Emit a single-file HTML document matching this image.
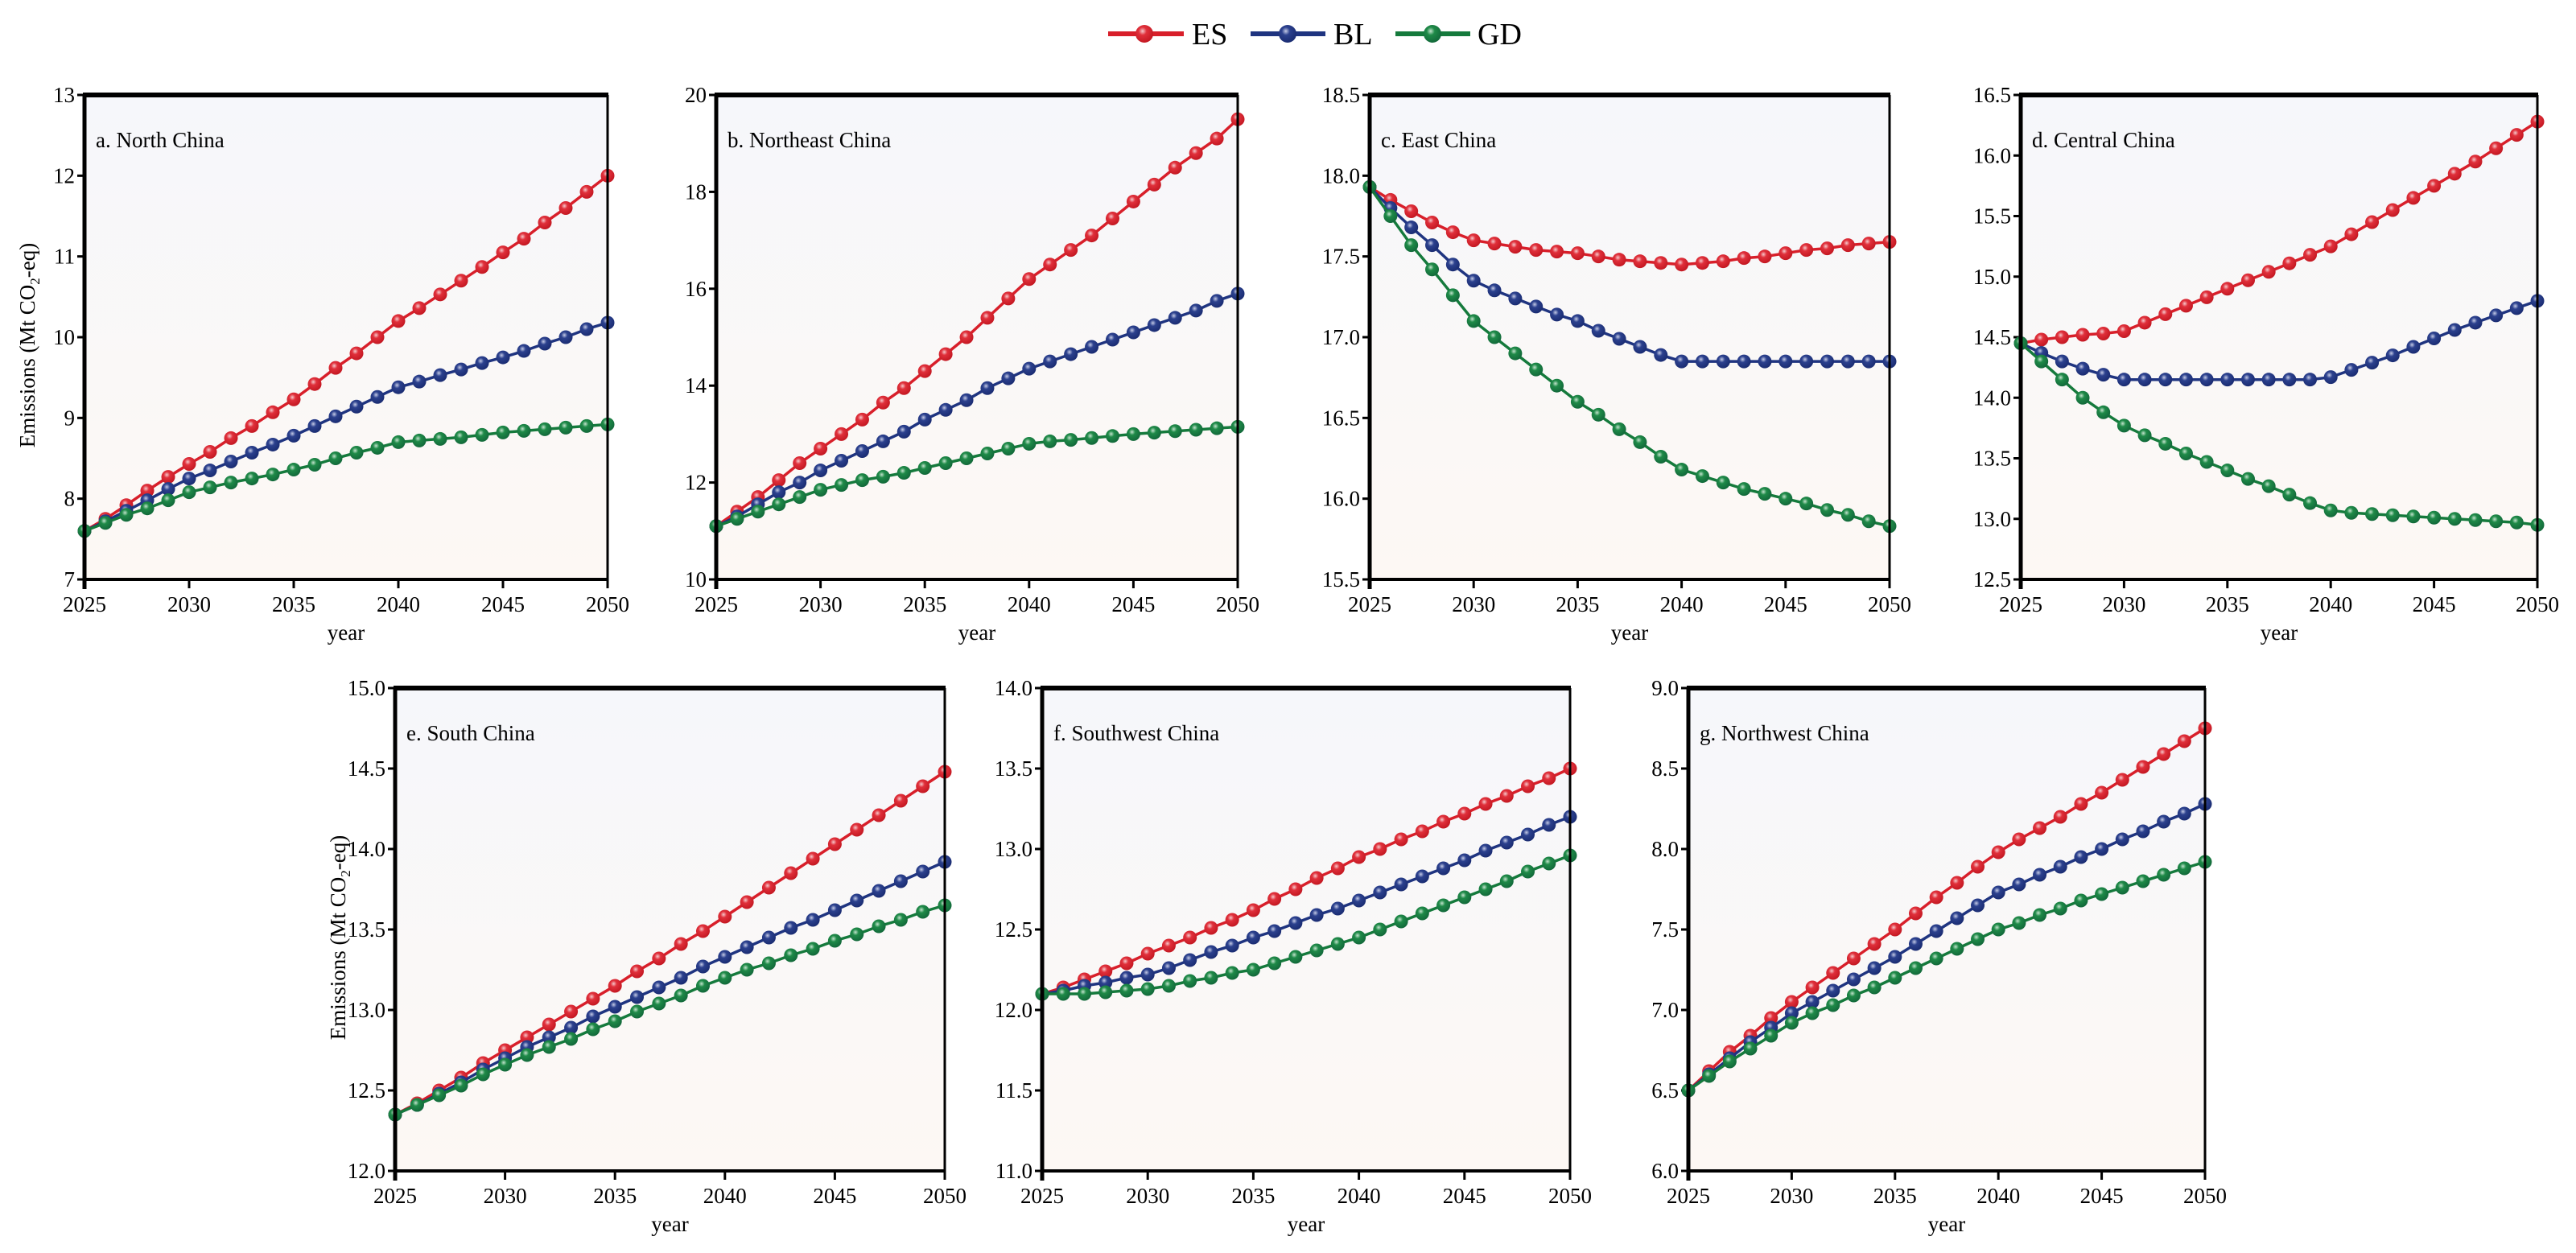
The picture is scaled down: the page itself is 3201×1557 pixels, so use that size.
<!DOCTYPE html>
<html><head><meta charset="utf-8">
<style>
html,body{margin:0;padding:0;background:#fff;}
svg{display:block;font-family:"Liberation Serif",serif;}
</style></head>
<body>
<svg id="chart" width="3201" height="1557" viewBox="0 0 3201 1557" xmlns="http://www.w3.org/2000/svg">
<defs>
<linearGradient id="bg" x1="0" y1="0" x2="0" y2="1">
<stop offset="0" stop-color="#f6f7fb"/><stop offset="1" stop-color="#fdf8f4"/>
</linearGradient>
<radialGradient id="gES" cx="0.4" cy="0.35" r="0.65"><stop offset="0" stop-color="#f6c9cc"/><stop offset="0.35" stop-color="#e0303b"/><stop offset="1" stop-color="#c41822"/></radialGradient>
<radialGradient id="gBL" cx="0.4" cy="0.35" r="0.65"><stop offset="0" stop-color="#c5cbe6"/><stop offset="0.35" stop-color="#2c418e"/><stop offset="1" stop-color="#1a2c72"/></radialGradient>
<radialGradient id="gGD" cx="0.4" cy="0.35" r="0.65"><stop offset="0" stop-color="#c3e3cd"/><stop offset="0.35" stop-color="#1f8a48"/><stop offset="1" stop-color="#12693a"/></radialGradient>
</defs>
<g>
<g>
<line x1="1377" y1="42" x2="1471" y2="42" stroke="#d81f2a" stroke-width="6"/>
<circle cx="1422" cy="42" r="11" fill="url(#gES)"/>
<text x="1481" y="55" font-size="38">ES</text></g>
<g>
<line x1="1554" y1="42" x2="1647" y2="42" stroke="#1f3480" stroke-width="6"/>
<circle cx="1600" cy="42" r="11" fill="url(#gBL)"/>
<text x="1657" y="55" font-size="38">BL</text></g>
<g>
<line x1="1734" y1="42" x2="1827" y2="42" stroke="#157a3c" stroke-width="6"/>
<circle cx="1780" cy="42" r="11" fill="url(#gGD)"/>
<text x="1836" y="55" font-size="38">GD</text></g>
</g>
</svg>
<script>
const years = [2025,2026,2027,2028,2029,2030,2031,2032,2033,2034,2035,2036,2037,2038,2039,2040,2041,2042,2043,2044,2045,2046,2047,2048,2049,2050];
const xTicks = [2025,2030,2035,2040,2045,2050];

const northES = [7.6,7.75,7.92,8.1,8.27,8.43,8.58,8.75,8.9,9.07,9.23,9.42,9.62,9.8,10.0,10.2,10.36,10.53,10.7,10.87,11.05,11.22,11.42,11.6,11.8,12.0];
const northBL = [7.6,7.72,7.85,7.98,8.12,8.25,8.35,8.46,8.57,8.67,8.78,8.9,9.02,9.14,9.26,9.38,9.45,9.53,9.6,9.68,9.75,9.83,9.92,10.0,10.1,10.18];
const northGD = [7.6,7.7,7.8,7.88,7.98,8.08,8.14,8.2,8.25,8.3,8.36,8.42,8.5,8.57,8.63,8.7,8.72,8.74,8.76,8.79,8.82,8.84,8.86,8.88,8.9,8.92];
const northTicks = ["7","8","9","10","11","12","13"];

const neES = [11.1,11.4,11.7,12.05,12.4,12.7,13.0,13.3,13.65,13.95,14.3,14.65,15.0,15.4,15.8,16.2,16.5,16.8,17.1,17.45,17.8,18.15,18.5,18.8,19.1,19.5];
const neBL = [11.1,11.3,11.55,11.8,12.0,12.25,12.45,12.65,12.85,13.05,13.3,13.5,13.7,13.95,14.15,14.35,14.5,14.65,14.8,14.95,15.1,15.25,15.4,15.55,15.75,15.9];
const neGD = [11.1,11.25,11.4,11.55,11.7,11.85,11.95,12.05,12.12,12.2,12.3,12.4,12.5,12.6,12.7,12.8,12.85,12.88,12.92,12.96,13.0,13.03,13.06,13.09,13.12,13.15];
const neTicks = ["10","12","14","16","18","20"];

const eastES = [17.93,17.85,17.78,17.71,17.65,17.6,17.58,17.56,17.54,17.53,17.52,17.5,17.48,17.47,17.46,17.45,17.46,17.47,17.49,17.5,17.52,17.54,17.55,17.57,17.58,17.59];
const eastBL = [17.93,17.8,17.68,17.57,17.45,17.35,17.29,17.24,17.19,17.14,17.1,17.04,16.99,16.94,16.89,16.85,16.85,16.85,16.85,16.85,16.85,16.85,16.85,16.85,16.85,16.85];
const eastGD = [17.93,17.75,17.57,17.42,17.26,17.1,17.0,16.9,16.8,16.7,16.6,16.52,16.43,16.35,16.26,16.18,16.14,16.1,16.06,16.03,16.0,15.97,15.93,15.9,15.86,15.83];
const eastTicks = ["15.5","16.0","16.5","17.0","17.5","18.0","18.5"];

const centralES = [14.45,14.48,14.5,14.52,14.53,14.55,14.62,14.69,14.76,14.83,14.9,14.97,15.04,15.11,15.18,15.25,15.35,15.45,15.55,15.65,15.75,15.85,15.95,16.06,16.17,16.28];
const centralBL = [14.45,14.37,14.3,14.24,14.19,14.15,14.15,14.15,14.15,14.15,14.15,14.15,14.15,14.15,14.15,14.17,14.23,14.29,14.35,14.42,14.49,14.56,14.62,14.68,14.74,14.8];
const centralGD = [14.45,14.3,14.15,14.0,13.88,13.77,13.69,13.62,13.54,13.47,13.4,13.33,13.27,13.2,13.13,13.07,13.05,13.04,13.03,13.02,13.01,13.0,12.99,12.98,12.97,12.95];
const centralTicks = ["12.5","13.0","13.5","14.0","14.5","15.0","15.5","16.0","16.5"];

const southES = [12.35,12.42,12.5,12.58,12.67,12.75,12.83,12.91,12.99,13.07,13.15,13.24,13.32,13.41,13.49,13.58,13.67,13.76,13.85,13.94,14.03,14.12,14.21,14.3,14.39,14.48];
const southBL = [12.35,12.41,12.48,12.55,12.63,12.7,12.77,12.83,12.89,12.96,13.02,13.08,13.14,13.2,13.27,13.33,13.39,13.45,13.51,13.56,13.62,13.68,13.74,13.8,13.86,13.92];
const southGD = [12.35,12.41,12.47,12.53,12.6,12.66,12.72,12.77,12.82,12.88,12.93,12.99,13.04,13.09,13.15,13.2,13.25,13.29,13.34,13.38,13.43,13.47,13.52,13.56,13.61,13.65];
const southTicks = ["12.0","12.5","13.0","13.5","14.0","14.5","15.0"];

const swES = [12.1,12.14,12.19,12.24,12.29,12.35,12.4,12.45,12.51,12.56,12.62,12.69,12.75,12.82,12.88,12.95,13.0,13.06,13.11,13.17,13.22,13.28,13.33,13.39,13.44,13.5];
const swBL = [12.1,12.12,12.15,12.17,12.2,12.22,12.26,12.31,12.36,12.4,12.45,12.49,12.54,12.59,12.63,12.68,12.73,12.78,12.83,12.88,12.93,12.99,13.04,13.09,13.15,13.2];
const swGD = [12.1,12.1,12.1,12.11,12.12,12.13,12.15,12.18,12.2,12.23,12.25,12.29,12.33,12.37,12.41,12.45,12.5,12.55,12.6,12.65,12.7,12.75,12.8,12.86,12.91,12.96];
const swTicks = ["11.0","11.5","12.0","12.5","13.0","13.5","14.0"];

const nwES = [6.5,6.62,6.74,6.84,6.95,7.05,7.14,7.23,7.32,7.41,7.5,7.6,7.7,7.79,7.89,7.98,8.06,8.13,8.2,8.28,8.35,8.43,8.51,8.59,8.67,8.75];
const nwBL = [6.5,6.6,6.7,6.8,6.89,6.98,7.05,7.12,7.19,7.26,7.33,7.41,7.49,7.57,7.65,7.73,7.78,7.84,7.89,7.95,8.0,8.06,8.11,8.17,8.22,8.28];
const nwGD = [6.5,6.59,6.68,6.76,6.84,6.92,6.98,7.03,7.09,7.14,7.2,7.26,7.32,7.38,7.44,7.5,7.54,7.59,7.63,7.68,7.72,7.76,7.8,7.84,7.88,7.92];
const nwTicks = ["6.0","6.5","7.0","7.5","8.0","8.5","9.0"];

const NS = "http://www.w3.org/2000/svg";
const svg = document.getElementById('chart');
function mk(tag, attrs, parent){
  const e = document.createElementNS(NS, tag);
  for (const k in attrs) e.setAttribute(k, attrs[k]);
  parent.appendChild(e);
  return e;
}
const colors = {ES:'#d81f2a', BL:'#1f3480', GD:'#157a3c'};

function panel(id, title, L, R, T, B, ticks, series, showY){
  const g = mk('g', {}, svg);
  
  
  const yMin = parseFloat(ticks[0]), yMax = parseFloat(ticks[ticks.length-1]);
  const xs = v => L + (v - 2025) / 25 * (R - L);
  const ys = v => B - (v - yMin) / (yMax - yMin) * (B - T);
  const bg = mk('rect', {x:L, y:T, width:R-L, height:B-T, fill:'url(#bg)'}, g);
  
  
  // y ticks
  ticks.forEach(t => {
    const y = ys(parseFloat(t));
    mk('line', {x1:L-9, x2:L, y1:y, y2:y, stroke:'#000', 'stroke-width':3}, g);
    const tx = mk('text', {x:L-12, y:y+9, 'font-size':27, 'text-anchor':'end'}, g);
    tx.textContent = t;
    
    
  });
  xTicks.forEach(t => {
    const x = xs(t);
    mk('line', {x1:x, x2:x, y1:B, y2:B+11, stroke:'#000', 'stroke-width':3}, g);
    const tx = mk('text', {x:x, y:B+40, 'font-size':27, 'text-anchor':'middle'}, g);
    tx.textContent = t;
    
    
  });
  const xt = mk('text', {x:(L+R)/2, y:B+75, 'font-size':27, 'text-anchor':'middle'}, g);
  xt.textContent = 'year';
  
  
  if (showY){
    const cx = L - 62, cy = (T+B)/2 + 10;
    const yt = mk('text', {x:cx, y:cy, 'font-size':27, 'text-anchor':'middle', transform:'rotate(-90 '+cx+' '+cy+')'}, g);
    yt.innerHTML = 'Emissions (Mt CO<tspan font-size="17" dy="6">2</tspan><tspan dy="-6">-eq)</tspan>';
    
    
  }
  // series
  Object.keys(series).forEach(k => {
    const vals = series[k];
    const sg = mk('g', {}, g);
    
    
    const pts = vals.map((v,i) => xs(years[i]).toFixed(1) + ',' + ys(v).toFixed(1)).join(' ');
    const pl = mk('polyline', {points:pts, fill:'none', stroke:colors[k], 'stroke-width':3.5}, sg);
    
    
    vals.forEach((v,i) => {
      const c = mk('circle', {cx:xs(years[i]), cy:ys(v), r:8.5, fill:'url(#g'+k+')'}, sg);
      
      
    });
  });
  // frame
  mk('line', {x1:L-2, x2:R+1, y1:T, y2:T, stroke:'#000', 'stroke-width':6}, g);
  mk('line', {x1:L, x2:L, y1:T, y2:B+12, stroke:'#000', 'stroke-width':5}, g);
  mk('line', {x1:L, x2:R, y1:B, y2:B, stroke:'#000', 'stroke-width':4}, g);
  mk('line', {x1:R, x2:R, y1:T, y2:B, stroke:'#000', 'stroke-width':3}, g);
  const pt = mk('text', {x:L+14, y:T+65, 'font-size':27}, g);
  pt.textContent = title;
  
  
}

panel('a', 'a. North China', 105, 755, 118, 720, northTicks, {ES:northES, BL:northBL, GD:northGD}, true);
panel('b', 'b. Northeast China', 890, 1538, 118, 720, neTicks, {ES:neES, BL:neBL, GD:neGD}, false);
panel('c', 'c. East China', 1702, 2348, 118, 720, eastTicks, {ES:eastES, BL:eastBL, GD:eastGD}, false);
panel('d', 'd. Central China', 2511, 3153, 118, 720, centralTicks, {ES:centralES, BL:centralBL, GD:centralGD}, false);
panel('e', 'e. South China', 491, 1174, 855, 1455, southTicks, {ES:southES, BL:southBL, GD:southGD}, true);
panel('f', 'f. Southwest China', 1295, 1951, 855, 1455, swTicks, {ES:swES, BL:swBL, GD:swGD}, false);
panel('g', 'g. Northwest China', 2098, 2740, 855, 1455, nwTicks, {ES:nwES, BL:nwBL, GD:nwGD}, false);
</script>
</body></html>
